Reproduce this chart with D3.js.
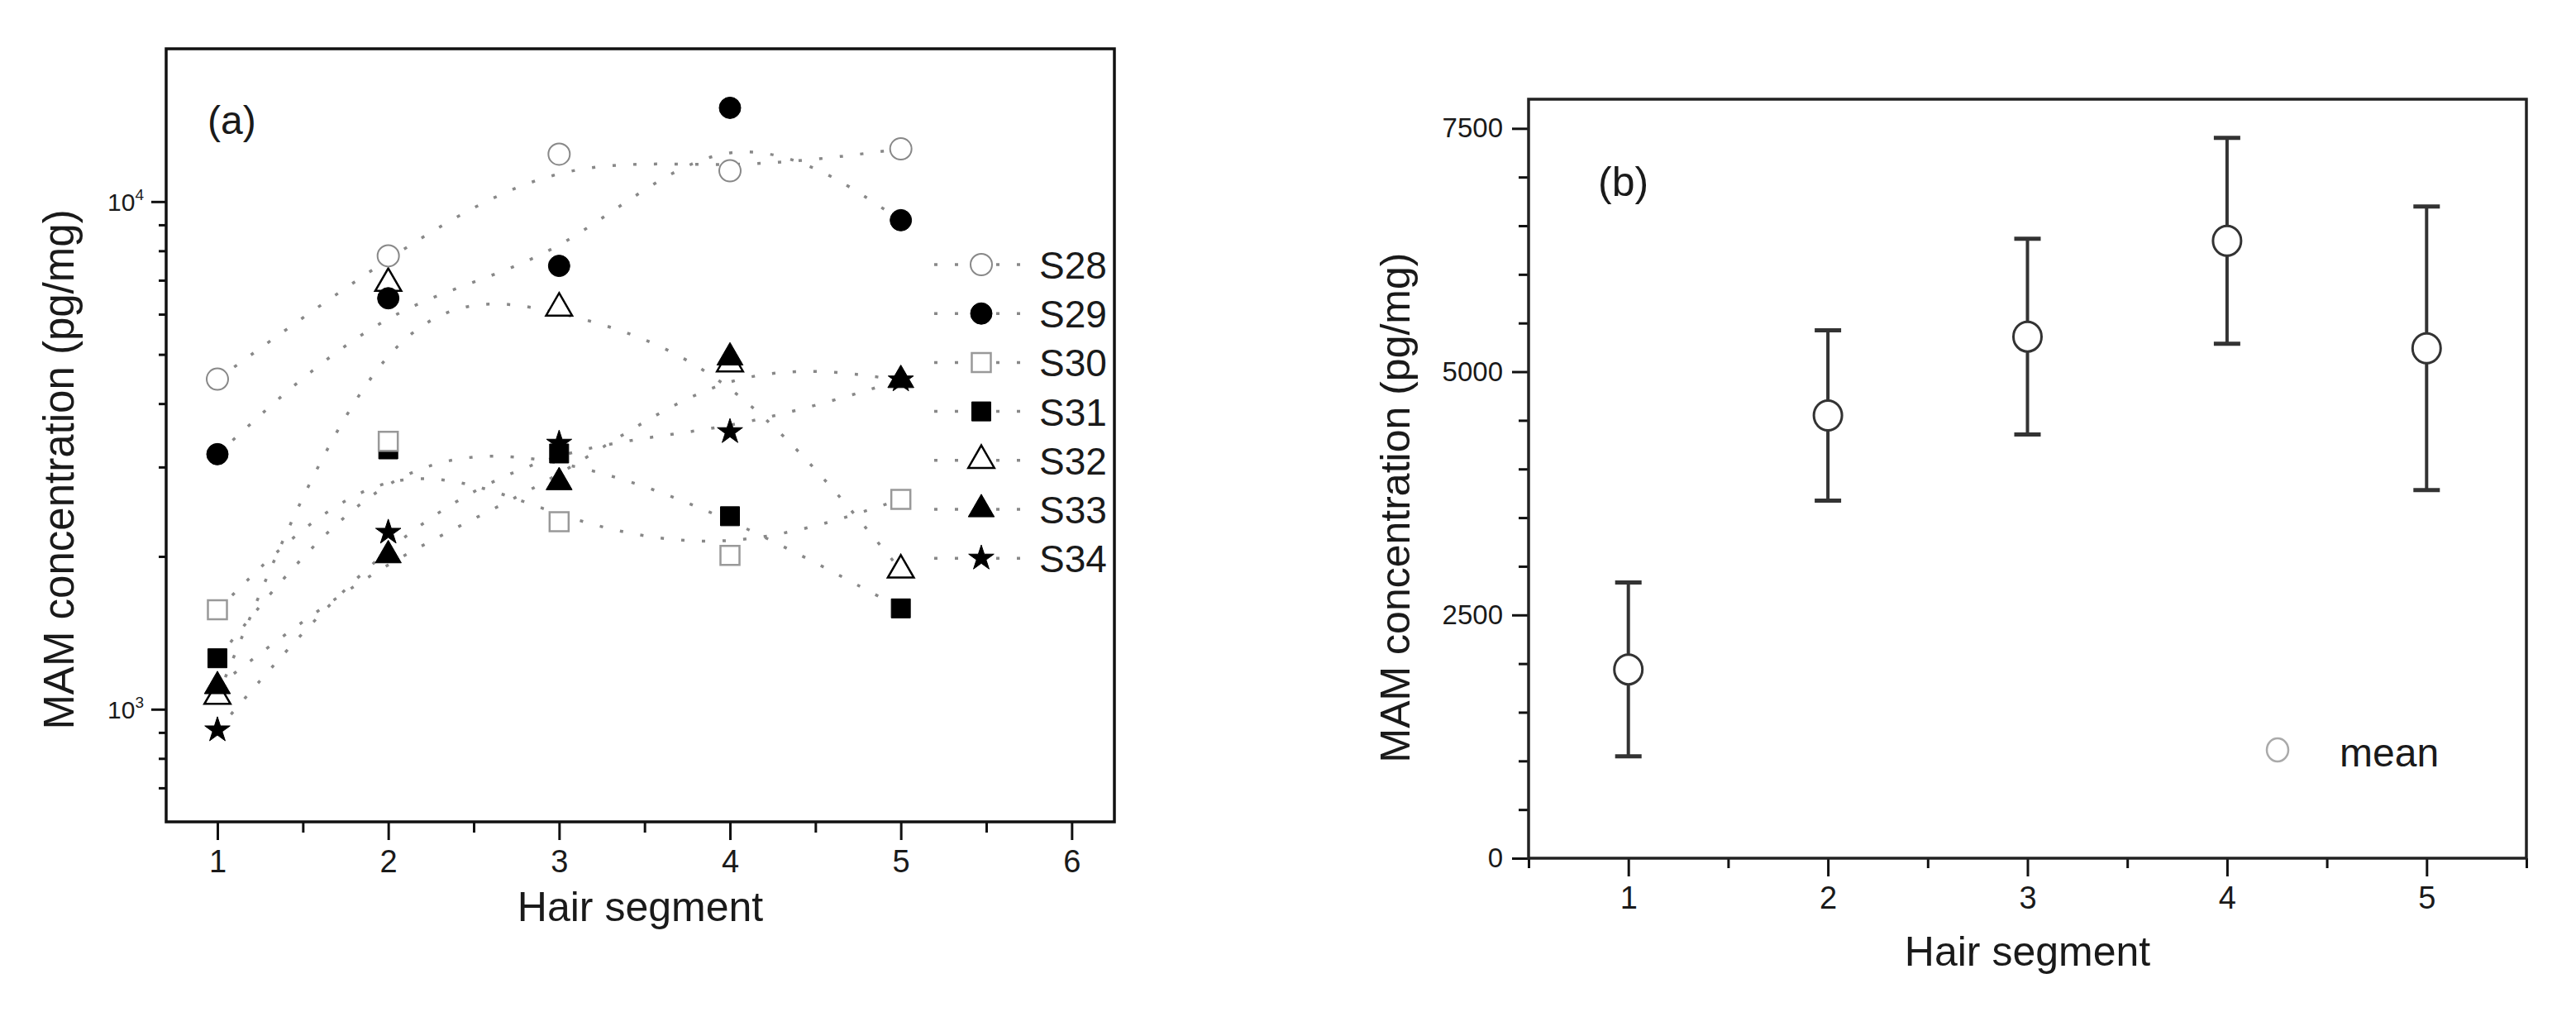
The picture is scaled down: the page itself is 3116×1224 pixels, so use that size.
<!DOCTYPE html>
<html>
<head>
<meta charset="utf-8">
<script src="https://cdn.jsdelivr.net/npm/d3@7"></script>
<style>
  body { margin: 0; background: #fff; }
  text { font-family: "Liberation Sans", Arial, sans-serif; fill: #1a1a1a; }
</style>
</head>
<body>
<svg id="chart" width="3116" height="1224"></svg>
<script>
// ---- data ----
const segments = [1, 2, 3, 4, 5];
const seriesNames = ["S28", "S29", "S30", "S31", "S32", "S33", "S34"];
const s28 = [4470, 7820, 12400, 11500, 12700];
const s29 = [3180, 6450, 7470, 15300, 9190];
const s30 = [1570, 3370, 2340, 2010, 2590];
const s31 = [1260, 3250, 3190, 2400, 1580];
const s32 = [1060, 6900, 6170, 4790, 1880];
const s33 = [1110, 2010, 2800, 4930, 4450];
const s34 = [910, 2230, 3340, 3520, 4450];
const meanValues = [1940, 4550, 5360, 6345, 5240];
const sdValues = [893, 875, 1006, 1058, 1457];

const xTicksA = [1, 2, 3, 4, 5, 6];
const xMinorA = [1.5, 2.5, 3.5, 4.5, 5.5];
const yMajorA = [1000, 10000];
const yMinorA = [700, 800, 900, 2000, 3000, 4000, 5000, 6000, 7000, 8000, 9000];
const xTicksB = [1, 2, 3, 4, 5];
const xMinorB = [0.5, 1.5, 2.5, 3.5, 4.5, 5.5];
const yMajorB = [0, 2500, 5000, 7500];
const yMinorB = [500, 1000, 1500, 2000, 3000, 3500, 4000, 4500, 5500, 6000, 6500, 7000];

const seriesValues = [s28, s29, s30, s31, s32, s33, s34];
// order the markers get painted in (later ones sit on top)
const drawOrder = ["S32", "S31", "S28", "S29", "S30", "S33", "S34"];

// marker look for every series
const markerStyle = {
  S28: {type: d3.symbolCircle, size: 530, fill: "#fff", stroke: "#888", sw: 2},
  S29: {type: d3.symbolCircle, size: 530, fill: "#000", stroke: "#000", sw: 1},
  S30: {type: d3.symbolSquare, size: 530, fill: "#fff", stroke: "#999", sw: 2.5},
  S31: {type: d3.symbolSquare, size: 530, fill: "#000", stroke: "#000", sw: 1},
  S32: {type: d3.symbolTriangle, size: 430, fill: "#fff", stroke: "#000", sw: 2.5},
  S33: {type: d3.symbolTriangle, size: 430, fill: "#000", stroke: "#000", sw: 1},
  S34: {type: d3.symbolStar, size: 290, fill: "#000", stroke: "#000", sw: 1}
};

const svg = d3.select("#chart");

const drawMarker = (g, name, x, y) => {
  const st = markerStyle[name];
  g.append("path")
    .attr("d", d3.symbol().type(st.type).size(st.size)())
    .attr("transform", `translate(${x},${y})`)
    .attr("fill", st.fill)
    .attr("stroke", st.stroke)
    .attr("stroke-width", st.sw);
};

const styleAxis = (g, w) => {
  g.select(".domain").remove();
  g.selectAll(".tick line").attr("stroke", "#111").attr("stroke-width", w);
};

// ================= panel (a) =================
const A = {left: 201, right: 1348, top: 59, bottom: 994};
const xA = d3.scaleLinear().domain([0.7, 6.25]).range([A.left, A.right]);
const yA = d3.scaleLog().domain([600, 20000]).range([A.bottom, A.top]);

const gA = svg.append("g");

// x axis
gA.append("g")
  .attr("transform", `translate(0,${A.bottom})`)
  .call(d3.axisBottom(xA).tickValues(xTicksA).tickSize(22).tickPadding(12).tickFormat(d3.format("d")))
  .call(g => styleAxis(g, 3))
  .call(g => g.selectAll(".tick text").attr("font-size", 38).attr("fill", "#1a1a1a"));
gA.append("g")
  .attr("transform", `translate(0,${A.bottom})`)
  .call(d3.axisBottom(xA).tickValues(xMinorA).tickSize(13).tickFormat(""))
  .call(g => styleAxis(g, 3));

// y axis (log)
gA.append("g")
  .attr("transform", `translate(${A.left},0)`)
  .call(d3.axisLeft(yA).tickValues(yMajorA).tickSize(18).tickFormat(""))
  .call(g => styleAxis(g, 3));
gA.append("g")
  .attr("transform", `translate(${A.left},0)`)
  .call(d3.axisLeft(yA).tickValues(yMinorA).tickSize(9).tickFormat(""))
  .call(g => styleAxis(g, 3));

const powLabels = gA.selectAll(".powlab").data(yMajorA).join("text")
  .attr("class", "powlab")
  .attr("x", A.left - 27)
  .attr("y", d => yA(d))
  .attr("dy", "0.36em")
  .attr("text-anchor", "end")
  .attr("font-size", 30)
  .attr("fill", "#333");
powLabels.append("tspan").text("10");
powLabels.append("tspan").attr("dy", -13).attr("font-size", 19).text(d => Math.round(Math.log10(d)));

// frame
gA.append("rect")
  .attr("x", A.left).attr("y", A.top)
  .attr("width", A.right - A.left).attr("height", A.bottom - A.top)
  .attr("fill", "none").attr("stroke", "#111").attr("stroke-width", 3.5);

// dotted spline curves
const lineA = d3.line()
  .x((d, i) => xA(segments[i]))
  .y(d => yA(d))
  .curve(d3.curveBasis);

gA.selectAll(".curve").data(seriesValues).join("path")
  .attr("class", "curve")
  .attr("d", d => lineA(d))
  .attr("fill", "none")
  .attr("stroke", "#888")
  .attr("stroke-width", 3.5)
  .attr("stroke-dasharray", "4,21");

// legend (a)
const legA = gA.append("g");
seriesNames.forEach((name, i) => {
  const ly = 320 + i * 59.2;
  legA.append("line")
    .attr("x1", 1130).attr("x2", 1240).attr("y1", ly).attr("y2", ly)
    .attr("stroke", "#888").attr("stroke-width", 3.5).attr("stroke-dasharray", "4,21");
  drawMarker(legA, name, 1187, ly);
  legA.append("text")
    .attr("x", 1257).attr("y", ly + 17)
    .attr("font-size", 46)
    .text(name);
});

// markers
const marksA = gA.append("g");
drawOrder.forEach(name => {
  const vals = seriesValues[seriesNames.indexOf(name)];
  vals.forEach((v, i) => drawMarker(marksA, name, xA(segments[i]), yA(v)));
});

gA.append("text").attr("x", 251).attr("y", 162).attr("font-size", 48).text("(a)");

gA.append("text")
  .attr("x", (A.left + A.right) / 2).attr("y", 1114)
  .attr("text-anchor", "middle").attr("font-size", 50)
  .text("Hair segment");

gA.append("text")
  .attr("transform", "translate(89,568) rotate(-90)")
  .attr("text-anchor", "middle").attr("font-size", 51)
  .text("MAM concentration (pg/mg)");

// ================= panel (b) =================
const B = {left: 1849, right: 3056, top: 120, bottom: 1038};
const xB = d3.scaleLinear().domain([0.5, 5.5]).range([B.left, B.right]);
const yB = d3.scaleLinear().domain([0, 7800]).range([B.bottom, B.top]);

const gB = svg.append("g");

gB.append("g")
  .attr("transform", `translate(0,${B.bottom})`)
  .call(d3.axisBottom(xB).tickValues(xTicksB).tickSize(22).tickPadding(12).tickFormat(d3.format("d")))
  .call(g => styleAxis(g, 3))
  .call(g => g.selectAll(".tick text").attr("font-size", 38).attr("fill", "#222"));
gB.append("g")
  .attr("transform", `translate(0,${B.bottom})`)
  .call(d3.axisBottom(xB).tickValues(xMinorB).tickSize(12).tickFormat(""))
  .call(g => styleAxis(g, 3));

gB.append("g")
  .attr("transform", `translate(${B.left},0)`)
  .call(d3.axisLeft(yB).tickValues(yMajorB).tickSize(20).tickPadding(11).tickFormat(d3.format("d")))
  .call(g => styleAxis(g, 3))
  .call(g => g.selectAll(".tick text").attr("font-size", 33).attr("fill", "#444"));
gB.append("g")
  .attr("transform", `translate(${B.left},0)`)
  .call(d3.axisLeft(yB).tickValues(yMinorB).tickSize(12).tickFormat(""))
  .call(g => styleAxis(g, 3));

gB.append("rect")
  .attr("x", B.left).attr("y", B.top)
  .attr("width", B.right - B.left).attr("height", B.bottom - B.top)
  .attr("fill", "none").attr("stroke", "#222").attr("stroke-width", 3.5);

// error bars
const bars = gB.selectAll(".err").data(meanValues).join("g").attr("class", "err");
bars.append("line")
  .attr("x1", (d, i) => xB(segments[i])).attr("x2", (d, i) => xB(segments[i]))
  .attr("y1", (d, i) => yB(d + sdValues[i])).attr("y2", (d, i) => yB(d - sdValues[i]))
  .attr("stroke", "#333").attr("stroke-width", 4);
bars.append("line")
  .attr("x1", (d, i) => xB(segments[i]) - 16).attr("x2", (d, i) => xB(segments[i]) + 16)
  .attr("y1", (d, i) => yB(d + sdValues[i])).attr("y2", (d, i) => yB(d + sdValues[i]))
  .attr("stroke", "#333").attr("stroke-width", 5);
bars.append("line")
  .attr("x1", (d, i) => xB(segments[i]) - 16).attr("x2", (d, i) => xB(segments[i]) + 16)
  .attr("y1", (d, i) => yB(d - sdValues[i])).attr("y2", (d, i) => yB(d - sdValues[i]))
  .attr("stroke", "#333").attr("stroke-width", 5);
bars.append("ellipse")
  .attr("cx", (d, i) => xB(segments[i])).attr("cy", d => yB(d))
  .attr("rx", 17).attr("ry", 18)
  .attr("fill", "#fff").attr("stroke", "#333").attr("stroke-width", 3);

// legend (b)
gB.append("ellipse").attr("cx", 2755).attr("cy", 907).attr("rx", 13).attr("ry", 14)
  .attr("fill", "#fff").attr("stroke", "#aaa").attr("stroke-width", 2.5);
gB.append("text").attr("x", 2830).attr("y", 927).attr("font-size", 48).text("mean");

gB.append("text").attr("x", 1933).attr("y", 237).attr("font-size", 50).text("(b)");

gB.append("text")
  .attr("x", (B.left + B.right) / 2).attr("y", 1168)
  .attr("text-anchor", "middle").attr("font-size", 50)
  .text("Hair segment");

gB.append("text")
  .attr("transform", "translate(1705,614) rotate(-90)")
  .attr("text-anchor", "middle").attr("font-size", 50)
  .text("MAM concentration (pg/mg)");
</script>
</body>
</html>
